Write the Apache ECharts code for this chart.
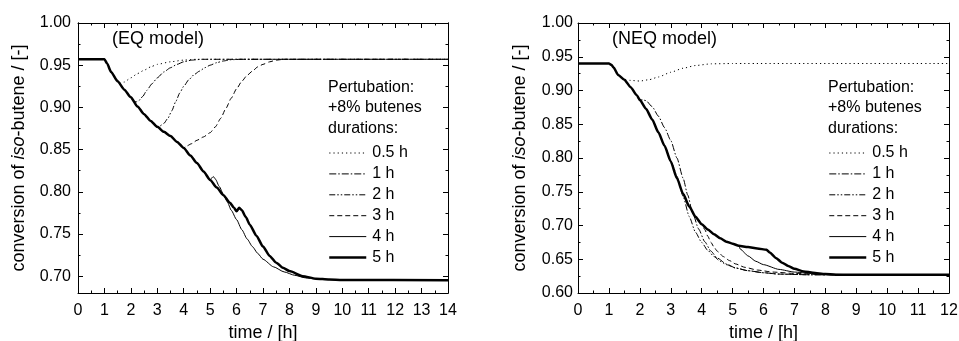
<!DOCTYPE html>
<html>
<head>
<meta charset="utf-8">
<script src="https://cdn.jsdelivr.net/npm/echarts@6/dist/echarts.min.js"></script>
<style>
html,body{margin:0;padding:0;background:#fff;}
#c{width:959px;height:341px;}
</style>
</head>
<body>
<div id="c"></div>
<script>
// ---------- DATA ----------
const durations = ['0.5 h', '1 h', '2 h', '3 h', '4 h', '5 h'];
const eqYTicks = [0.70, 0.75, 0.80, 0.85, 0.90, 0.95, 1.00];
const eqYMinorTicks = [0.725, 0.775, 0.825, 0.875, 0.925, 0.975];

// EQ model (left)
const eq5h = [[0,0.957],[1.0,0.957],[1.1,0.952],[1.25,0.942],[1.5,0.931],[1.75,0.921],[2.0,0.912],[2.25,0.901],[2.5,0.892],[2.75,0.884],[3.0,0.877],[3.25,0.871],[3.5,0.866],[3.75,0.859],[4.0,0.852],[4.25,0.843],[4.5,0.834],[4.75,0.824],[5.0,0.814],[5.25,0.805],[5.5,0.796],[5.75,0.787],[5.9,0.781],[6.0,0.777],[6.1,0.781],[6.2,0.778],[6.35,0.770],[6.5,0.761],[6.75,0.748],[7.0,0.735],[7.25,0.724],[7.5,0.716],[7.75,0.710],[8.0,0.706],[8.5,0.700],[9.0,0.697],[9.5,0.696],[10,0.6955],[14,0.695]];
const eq4h = [[5.05,0.816],[5.12,0.818],[5.2,0.815],[5.35,0.806],[5.5,0.797],[5.65,0.788],[5.8,0.778],[6.0,0.767],[6.2,0.755],[6.4,0.744],[6.6,0.735],[6.8,0.727],[7.0,0.720],[7.4,0.711],[7.8,0.705],[8.2,0.701],[8.6,0.698],[9.0,0.6965],[10,0.6955],[14,0.695]];
const eq3h = [[4.1,0.854],[4.3,0.857],[4.5,0.861],[4.75,0.865],[5.0,0.870],[5.2,0.877],[5.4,0.887],[5.6,0.899],[5.8,0.911],[6.0,0.922],[6.2,0.931],[6.4,0.938],[6.6,0.943],[6.8,0.948],[7.0,0.951],[7.25,0.954],[7.5,0.956],[7.8,0.957],[14,0.957]];
const eq2h = [[3.1,0.878],[3.25,0.881],[3.4,0.887],[3.55,0.896],[3.7,0.907],[3.85,0.917],[4.0,0.925],[4.2,0.933],[4.4,0.939],[4.6,0.943],[4.8,0.947],[5.0,0.950],[5.25,0.953],[5.5,0.955],[5.8,0.9565],[6.2,0.957],[14,0.957]];
const eq1h = [[2.1,0.907],[2.2,0.9065],[2.3,0.908],[2.45,0.913],[2.6,0.920],[2.8,0.928],[3.0,0.935],[3.25,0.942],[3.5,0.947],[3.75,0.951],[4.0,0.954],[4.3,0.956],[4.7,0.957],[14,0.957]];
const eq05h = [[1.6,0.929],[1.75,0.930],[2.0,0.935],[2.25,0.940],[2.5,0.944],[2.75,0.948],[3.0,0.951],[3.5,0.954],[4.0,0.956],[4.5,0.957],[14,0.957]];

// NEQ model (right)
const neq5h = [[0,0.940],[1.0,0.940],[1.08,0.938],[1.15,0.934],[1.3,0.923],[1.5,0.916],[1.7,0.905],[1.9,0.893],[2.0,0.886],[2.2,0.873],[2.4,0.857],[2.6,0.838],[2.8,0.818],[3.0,0.795],[3.2,0.770],[3.4,0.747],[3.6,0.728],[3.8,0.713],[4.0,0.702],[4.2,0.694],[4.4,0.687],[4.6,0.681],[4.8,0.676],[5.0,0.673],[5.2,0.670],[5.5,0.668],[5.8,0.666],[6.1,0.664],[6.2,0.660],[6.4,0.652],[6.6,0.645],[6.8,0.640],[7.0,0.636],[7.3,0.632],[7.6,0.630],[8.0,0.628],[8.5,0.627],[12,0.627]];
const neq4h = [[5.25,0.665],[5.5,0.655],[5.75,0.647],[6.0,0.642],[6.5,0.635],[7.0,0.631],[7.5,0.629],[8.0,0.628],[9.0,0.627],[12,0.627]];
const neq3h = [[4.1,0.694],[4.2,0.684],[4.3,0.675],[4.4,0.668],[4.5,0.662],[4.7,0.654],[4.9,0.648],[5.1,0.643],[5.4,0.638],[5.8,0.634],[6.3,0.631],[7.0,0.629],[8.0,0.627],[12,0.627]];
const neq2h = [[3.05,0.790],[3.2,0.773],[3.4,0.743],[3.6,0.713],[3.8,0.690],[4.0,0.675],[4.2,0.663],[4.4,0.654],[4.6,0.647],[4.8,0.642],[5.1,0.637],[5.5,0.633],[6.0,0.630],[6.5,0.628],[7.5,0.627],[12,0.627]];
const neq1h = [[2.1,0.886],[2.2,0.885],[2.4,0.876],[2.6,0.862],[2.8,0.845],[3.0,0.826],[3.2,0.800],[3.4,0.770],[3.55,0.745],[3.7,0.720],[3.9,0.695],[4.1,0.676],[4.3,0.662],[4.5,0.652],[4.8,0.643],[5.1,0.637],[5.5,0.633],[6.0,0.630],[6.5,0.628],[7.5,0.627],[12,0.627]];
const neq05h = [[1.7,0.915],[2.0,0.914],[2.3,0.916],[2.6,0.920],[3.0,0.927],[3.4,0.933],[3.8,0.937],[4.3,0.9395],[5.0,0.940],[12,0.940]];

// ---------- CHART ----------
const FONT = '"Liberation Sans", Arial, Helvetica, sans-serif';
const INK = '#000';

function withBase(base, own) {
  const t0 = own[0][0];
  return base.filter(p => p[0] < t0).concat(own);
}

const styles = [
  { type: [1.2, 3], width: 1 },
  { type: [7, 2, 1.5, 2], width: 1 },
  { type: [6, 2, 1.5, 2, 1.5, 2], width: 1 },
  { type: [5, 3], width: 1 },
  { type: 'solid', width: 1 },
  { type: 'solid', width: 2.5 }
];

const grids = [
  { left: 78, top: 23, width: 370, height: 270, show: false, containLabel: false, outerBoundsMode: 'none' },
  { left: 578, top: 23, width: 371, height: 270, show: false, containLabel: false, outerBoundsMode: 'none' }
];

function xAxes(gi, max) {
  const base = {
    gridIndex: gi, type: 'value', min: 0, max: max, interval: 1,
    axisLine: { show: true, onZero: false, lineStyle: { color: INK, width: 1 } },
    axisTick: { show: true, inside: true, length: 5, lineStyle: { color: INK } },
    minorTick: { show: true, splitNumber: 2, length: 2.5, lineStyle: { color: INK } },
    splitLine: { show: false }
  };
  return [
    Object.assign({}, base, {
      position: 'bottom',
      axisLabel: { show: true, margin: 10, color: INK, fontSize: 16, fontFamily: FONT },
      name: 'time / [h]', nameLocation: 'middle', nameGap: 30,
      nameTextStyle: { color: INK, fontSize: 18, fontFamily: FONT }
    }),
    Object.assign({}, base, { position: 'top', axisLabel: { show: false } })
  ];
}

const yName = '{a|conversion of }{i|iso}{a|-butene / [-]}';
const yNameStyle = {
  color: INK, fontSize: 18, fontFamily: FONT,
  rich: {
    a: { fontSize: 18, fontFamily: FONT, color: INK },
    i: { fontSize: 18, fontFamily: FONT, color: INK, fontStyle: 'italic' }
  }
};

function yAxesEQ(gi) {
  const common = {
    gridIndex: gi, type: 'value', min: 0.68, max: 1.0,
    axisLine: { show: true, onZero: false, lineStyle: { color: INK } },
    splitLine: { show: false }
  };
  return [
    Object.assign({}, common, {
      position: 'left',
      axisTick: { show: true, inside: true, length: 5, customValues: eqYTicks, lineStyle: { color: INK } },
      axisLabel: { show: true, margin: 7, customValues: eqYTicks, color: INK, fontSize: 16, fontFamily: FONT,
        formatter: v => v.toFixed(2) },
      name: yName, nameLocation: 'middle', nameGap: 50, nameRotate: 90, nameTextStyle: yNameStyle
    }),
    Object.assign({}, common, {
      position: 'left',
      axisTick: { show: true, inside: true, length: 2.5, customValues: eqYMinorTicks, lineStyle: { color: INK } },
      axisLabel: { show: false }
    }),
    Object.assign({}, common, {
      position: 'right',
      axisTick: { show: true, inside: true, length: 5, customValues: eqYTicks, lineStyle: { color: INK } },
      axisLabel: { show: false }
    }),
    Object.assign({}, common, {
      position: 'right',
      axisTick: { show: true, inside: true, length: 2.5, customValues: eqYMinorTicks, lineStyle: { color: INK } },
      axisLabel: { show: false }
    })
  ];
}

function yAxesNEQ(gi) {
  const common = {
    gridIndex: gi, type: 'value', min: 0.6, max: 1.0, interval: 0.05,
    axisLine: { show: true, onZero: false, lineStyle: { color: INK } },
    axisTick: { show: true, inside: true, length: 5, lineStyle: { color: INK } },
    minorTick: { show: true, splitNumber: 2, length: 2.5, lineStyle: { color: INK } },
    splitLine: { show: false }
  };
  return [
    Object.assign({}, common, {
      position: 'left',
      axisLabel: { show: true, margin: 5, color: INK, fontSize: 16, fontFamily: FONT,
        formatter: v => v.toFixed(2) },
      name: yName, nameLocation: 'middle', nameGap: 49, nameRotate: 90, nameTextStyle: yNameStyle
    }),
    Object.assign({}, common, { position: 'right', axisLabel: { show: false } })
  ];
}

const xAxis = xAxes(0, 14).concat(xAxes(1, 12));
const yAxis = yAxesEQ(0).concat(yAxesNEQ(1));
// EQ axes: x 0, y 0 ; NEQ axes: x 2, y 4

const eqOwn = [eq05h, eq1h, eq2h, eq3h, eq4h];
const neqOwn = [neq05h, neq1h, neq2h, neq3h, neq4h];

const series = [];
function mk(name, xi, yi, data, st) {
  return {
    type: 'line', name: name, xAxisIndex: xi, yAxisIndex: yi,
    data: data, showSymbol: false, symbol: 'none',
    smooth: 0.2, smoothMonotone: 'x', animation: false,
    lineStyle: { color: INK, width: st.width, type: st.type },
    itemStyle: { color: INK }
  };
}
function addSeries(xi, yi, own, base) {
  own.forEach((d, k) => series.push(mk(durations[k], xi, yi, withBase(base, d), styles[k])));
  series.push(mk(durations[5], xi, yi, base, styles[5]));
}
addSeries(0, 0, eqOwn, eq5h);
addSeries(2, 4, neqOwn, neq5h);

function legend(left) {
  return {
    data: durations.map((n, k) => ({
      name: n,
      lineStyle: { color: INK, width: styles[k].width, type: styles[k].type, opacity: 1 },
      itemStyle: { opacity: 0, borderWidth: 0 }
    })),
    left: left, top: 145, orient: 'vertical',
    itemWidth: 37, itemHeight: 14, itemGap: 4.9, padding: 0,
    selectedMode: false,
    itemStyle: { opacity: 0, borderWidth: 0 },
    textStyle: { color: INK, fontSize: 16, fontFamily: FONT, padding: [0, 0, 0, 1] }
  };
}

function txt(x, y, s, size) {
  return { type: 'text', left: x, top: y, style: { text: s, fill: INK, fontSize: size, fontFamily: FONT } };
}

const chart = echarts.init(document.getElementById('c'), null, { renderer: 'canvas' });
chart.setOption({
  animation: false,
  backgroundColor: '#fff',
  grid: grids,
  xAxis: xAxis,
  yAxis: yAxis,
  legend: [legend(328), legend(828)],
  graphic: [
    txt(112, 30, '(EQ model)', 18),
    txt(328, 80, 'Pertubation:', 16),
    txt(328, 100, '+8% butenes', 16),
    txt(328, 121, 'durations:', 16),
    txt(612, 30, '(NEQ model)', 18),
    txt(828, 80, 'Pertubation:', 16),
    txt(828, 100, '+8% butenes', 16),
    txt(828, 121, 'durations:', 16)
  ],
  series: series
});
</script>
</body>
</html>
